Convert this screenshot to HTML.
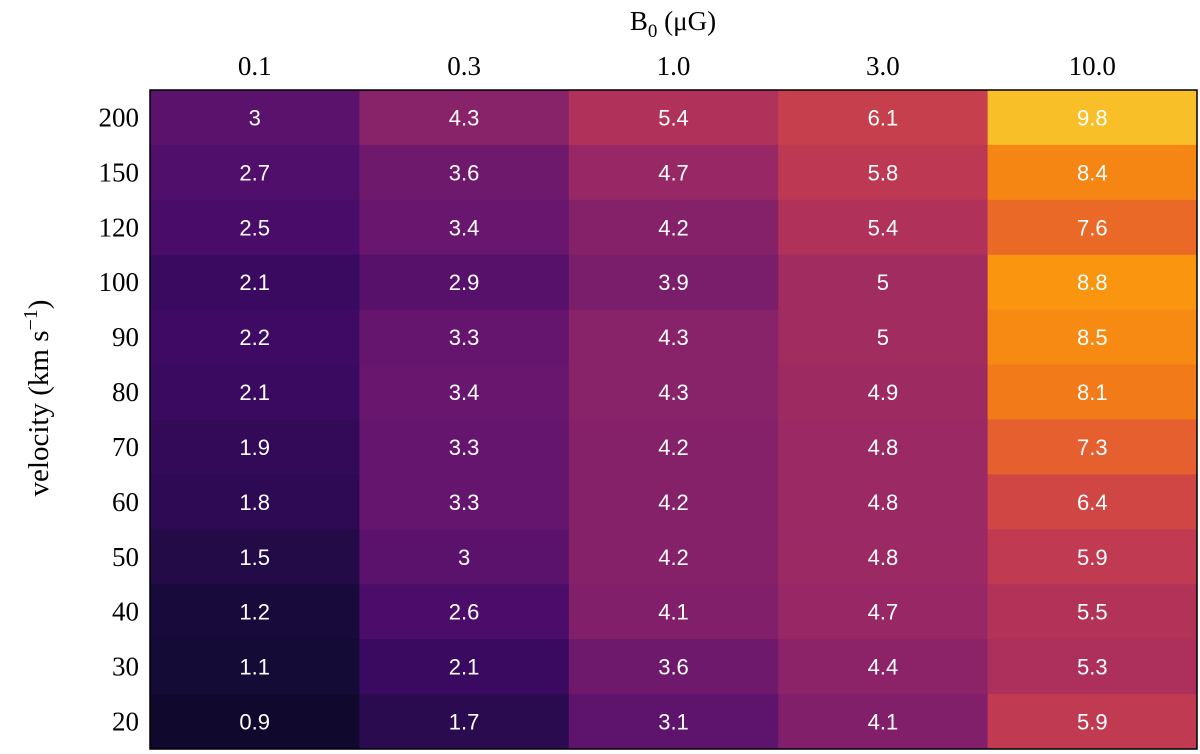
<!DOCTYPE html>
<html><head><meta charset="utf-8">
<style>
html,body{margin:0;padding:0;background:#fff;}
svg{display:block;}
</style></head>
<body>
<svg id="chart" width="1200" height="754">
<g id="cells"></g>
<g id="labels"></g>
<rect x="150" y="90" width="1047" height="659" fill="none" stroke="#000" stroke-width="1.5"/>
<text x="673" y="30" text-anchor="middle" font-family="Liberation Serif, serif" font-size="27">B<tspan font-size="19" dy="7">0</tspan><tspan dy="-7"> (μG)</tspan></text>
<text transform="translate(48,398) rotate(-90)" text-anchor="middle" font-family="Liberation Serif, serif" font-size="29">velocity (km s<tspan font-size="20" dy="-11">−1</tspan><tspan dy="11">)</tspan></text>
</svg>
<script>
const cols = ["0.1","0.3","1.0","3.0","10.0"];
const rows = ["200","150","120","100","90","80","70","60","50","40","30","20"];
const values = [
[3,4.3,5.4,6.1,9.8],
[2.7,3.6,4.7,5.8,8.4],
[2.5,3.4,4.2,5.4,7.6],
[2.1,2.9,3.9,5,8.8],
[2.2,3.3,4.3,5,8.5],
[2.1,3.4,4.3,4.9,8.1],
[1.9,3.3,4.2,4.8,7.3],
[1.8,3.3,4.2,4.8,6.4],
[1.5,3,4.2,4.8,5.9],
[1.2,2.6,4.1,4.7,5.5],
[1.1,2.1,3.6,4.4,5.3],
[0.9,1.7,3.1,4.1,5.9]
];
const vmin = 0, vmax = 11.5;
const stops = ["#000004","#160b39","#420a68","#6a176e","#932667","#bc3754","#dd513a","#f37819","#fca50a","#f6d746","#fcffa4"];
function hex(h){return [1,3,5].map(i=>parseInt(h.substr(i,2),16));}
function cmap(v){
  let t=Math.max(0,Math.min(1,(v-vmin)/(vmax-vmin)))*10;
  let i=Math.min(9,Math.floor(t)),f=t-i;
  const a=hex(stops[i]),b=hex(stops[i+1]);
  return "rgb("+a.map((c,k)=>Math.round(c+(b[k]-c)*f)).join(",")+")";
}
const X0=150,Y0=90,W=1047,H=659;
const cw=W/cols.length, rh=H/rows.length;
const xPos=j=>X0+j*cw, yPos=i=>Y0+i*rh;
const NS="http://www.w3.org/2000/svg";
const cg=document.getElementById("cells"), lg=document.getElementById("labels");
rows.forEach((r,i)=>{
  cols.forEach((c,j)=>{
    const rect=document.createElementNS(NS,"rect");
    rect.setAttribute("x",xPos(j));rect.setAttribute("y",yPos(i));
    rect.setAttribute("width",cw+0.5);rect.setAttribute("height",rh+0.5);
    rect.setAttribute("fill",cmap(values[i][j]));
    
    
    cg.appendChild(rect);
    const t=document.createElementNS(NS,"text");
    t.setAttribute("x",xPos(j)+cw/2);t.setAttribute("y",yPos(i)+rh/2+8);
    t.setAttribute("text-anchor","middle");t.setAttribute("fill","#fff");
    t.setAttribute("font-family","Liberation Sans, sans-serif");t.setAttribute("font-size","22");
    t.textContent=values[i][j];
    
    
    cg.appendChild(t);
  });
  const yl=document.createElementNS(NS,"text");
  yl.setAttribute("x",139);yl.setAttribute("y",yPos(i)+rh/2+9);
  yl.setAttribute("text-anchor","end");yl.setAttribute("font-family","Liberation Serif, serif");yl.setAttribute("font-size","27");
  yl.textContent=r;
  
  
  lg.appendChild(yl);
});
cols.forEach((c,j)=>{
  const xl=document.createElementNS(NS,"text");
  xl.setAttribute("x",xPos(j)+cw/2);xl.setAttribute("y",75);
  xl.setAttribute("text-anchor","middle");xl.setAttribute("font-family","Liberation Serif, serif");xl.setAttribute("font-size","27");
  xl.textContent=c;
  
  
  lg.appendChild(xl);
});
</script>
</body></html>
